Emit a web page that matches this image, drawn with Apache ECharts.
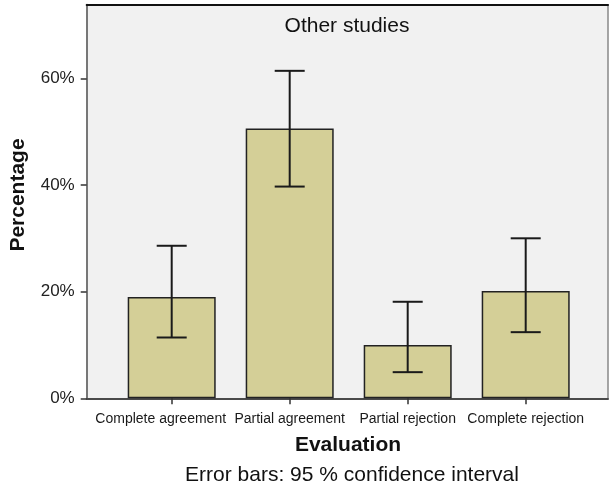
<!DOCTYPE html>
<html><head><meta charset="utf-8">
<script src="https://cdn.jsdelivr.net/npm/echarts@6/dist/echarts.min.js"></script>
<style>html,body{margin:0;padding:0;background:#fff}#c{width:610px;height:489px}</style>
</head><body><div id="c"></div>
<script>
const categories = ['Complete agreement', 'Partial agreement', 'Partial rejection', 'Complete rejection'];
const percentages = [19.0, 50.6, 10.0, 20.1];
const ciLower = [11.4, 39.7, 4.9, 12.4];
const ciUpper = [28.6, 61.4, 18.1, 30.0];
const yTicks = [0, 20, 40, 60];
const yMax = 73.8;

const FONT = '"Liberation Sans", Arial, sans-serif';
const chart = echarts.init(document.getElementById('c'), null, {renderer: 'canvas'});
const gTop = 4.7, gBottom = 90.7;

chart.setOption({
  animation: false,
  backgroundColor: '#ffffff',
  grid: [
    {left: 86.7, right: 2, top: gTop, bottom: gBottom, show: true, backgroundColor: '#f1f1f1', borderWidth: 0},
    {left: 112.7, right: 25.3, top: gTop, bottom: gBottom, show: false}
  ],
  xAxis: [
    {type: 'value', gridIndex: 0, position: 'bottom', min: 0, max: 1,
      axisLine: {show: true, onZero: false, lineStyle: {color: '#4a4a4a', width: 2}},
      axisTick: {show: false}, axisLabel: {show: false}, splitLine: {show: false}},
    {type: 'value', gridIndex: 0, position: 'top', min: 0, max: 1,
      axisLine: {show: true, onZero: false, lineStyle: {color: '#111', width: 2}},
      axisTick: {show: false}, axisLabel: {show: false}, splitLine: {show: false}},
    {type: 'category', gridIndex: 1, data: categories, position: 'bottom',
      axisLine: {show: false},
      axisTick: {show: true, alignWithLabel: true, length: 6, lineStyle: {color: '#333', width: 1.5}},
      axisLabel: {show: true, margin: 14, fontSize: 14, fontFamily: FONT, color: '#1a1a1a', interval: 0,
        hideOverlap: false,
        formatter: (v, i) => i === 0 ? '{a|' + v + '}' : v,
        rich: {a: {fontSize: 14, fontFamily: FONT, color: '#1a1a1a', padding: [0, 22, 0, 0]}}},
      splitLine: {show: false}}
  ],
  yAxis: [
    {type: 'value', gridIndex: 0, position: 'left', min: 0, max: yMax, interval: 20,
      axisLine: {show: true, onZero: false, lineStyle: {color: '#777', width: 2}},
      axisTick: {show: true, length: 6, customValues: yTicks, lineStyle: {color: '#333', width: 1.5}},
      axisLabel: {show: true, margin: 12, customValues: yTicks, fontSize: 17, fontFamily: FONT, color: '#222',
        formatter: v => v + '%'},
      splitLine: {show: false}},
    {type: 'value', gridIndex: 0, position: 'right', min: 0, max: yMax,
      axisLine: {show: true, onZero: false, lineStyle: {color: '#888', width: 1.5}},
      axisTick: {show: false}, axisLabel: {show: false}, splitLine: {show: false}},
    {type: 'value', gridIndex: 1, min: 0, max: yMax, show: false, splitLine: {show: false}}
  ],
  graphic: [
    {type: 'text', x: 347, y: 26, z: 100, style: {text: 'Other studies', font: '21px ' + FONT, fill: '#111', align: 'center', verticalAlign: 'middle'}},
    {type: 'text', x: 348, y: 445, z: 100, style: {text: 'Evaluation', font: 'bold 21px ' + FONT, fill: '#111', align: 'center', verticalAlign: 'middle'}},
    {type: 'text', x: 352, y: 475, z: 100, style: {text: 'Error bars: 95 % confidence interval', font: '21px ' + FONT, fill: '#111', align: 'center', verticalAlign: 'middle'}},
    {type: 'text', x: 18, y: 195, rotation: Math.PI / 2, z: 100, style: {text: 'Percentage', font: 'bold 21px ' + FONT, fill: '#111', align: 'center', verticalAlign: 'middle'}}
  ],
  series: [
    {type: 'bar', xAxisIndex: 2, yAxisIndex: 2, data: percentages, barWidth: 88,
      itemStyle: {color: '#d4cf97', borderColor: '#222', borderWidth: 1.5}},
    {type: 'custom', xAxisIndex: 2, yAxisIndex: 2, z: 10,
      data: categories.map((c, i) => [i, ciLower[i], ciUpper[i]]),
      encode: {x: 0, y: [1, 2]},
      renderItem: function (params, api) {
        const x = api.value(0);
        const pLo = api.coord([x, api.value(1)]);
        const pHi = api.coord([x, api.value(2)]);
        const hw = 15;
        const st = {stroke: '#1a1a1a', lineWidth: 2};
        return {type: 'group', children: [
          {type: 'line', shape: {x1: pLo[0], y1: pLo[1], x2: pHi[0], y2: pHi[1]}, style: st},
          {type: 'line', shape: {x1: pLo[0] - hw, y1: pLo[1], x2: pLo[0] + hw, y2: pLo[1]}, style: st},
          {type: 'line', shape: {x1: pHi[0] - hw, y1: pHi[1], x2: pHi[0] + hw, y2: pHi[1]}, style: st}
        ]};
      }}
  ]
});
</script></body></html>
